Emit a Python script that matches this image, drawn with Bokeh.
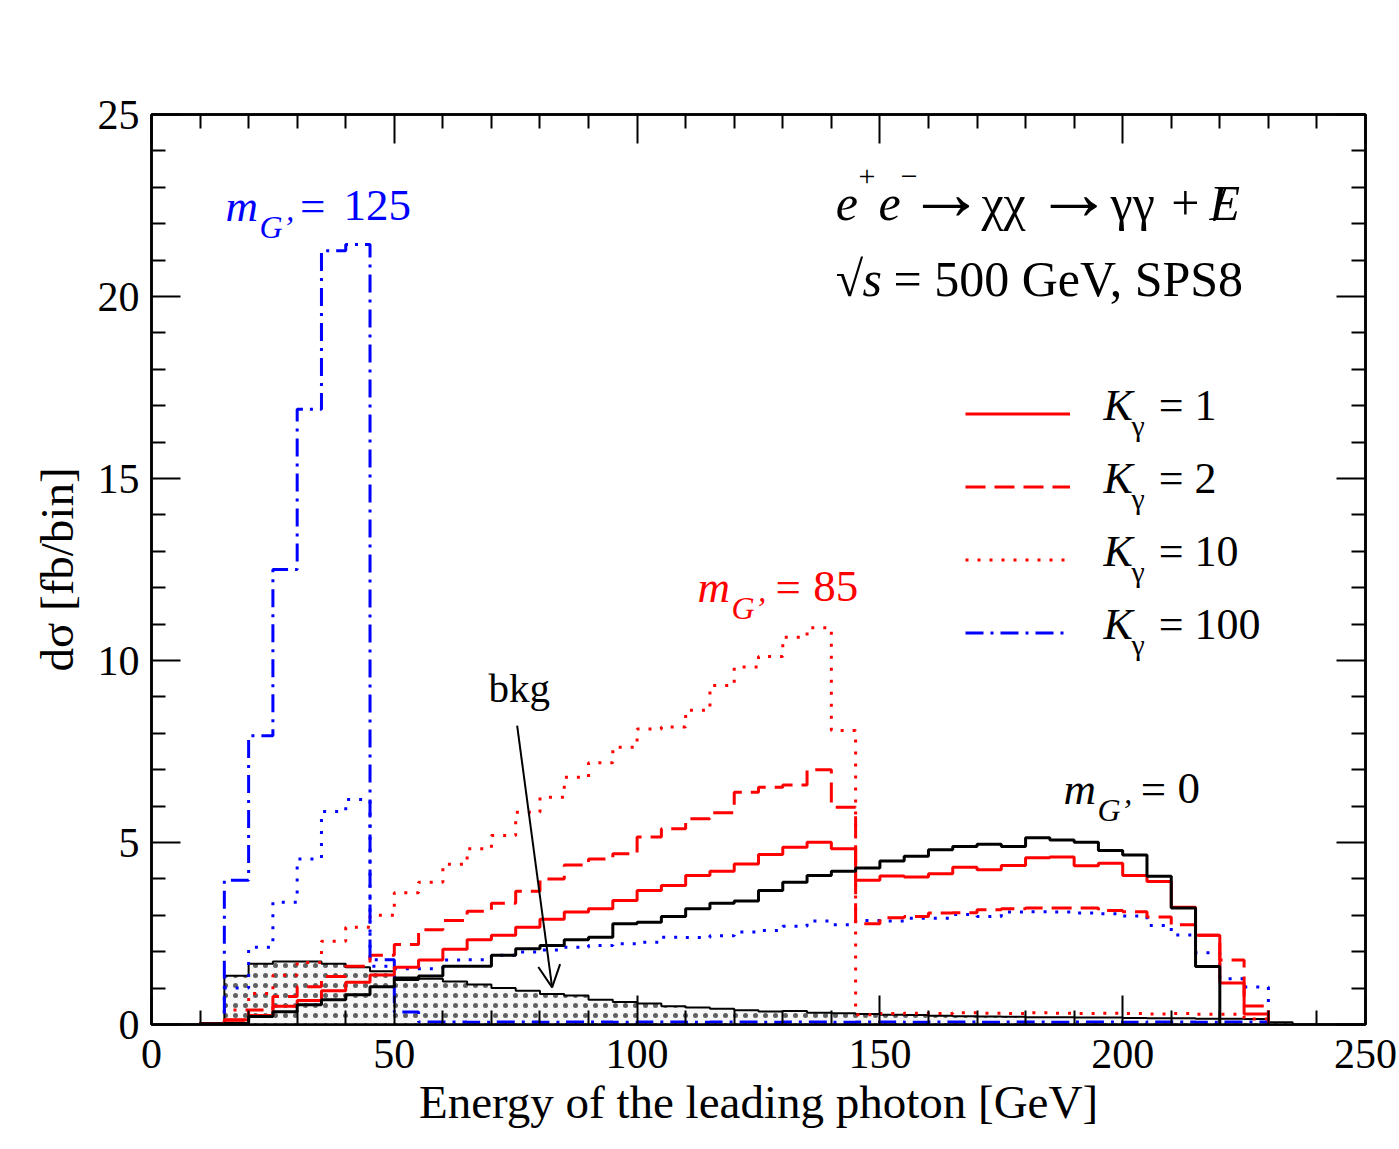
from bokeh.plotting import figure
from bokeh.models import (Range1d, LinearAxis, FixedTicker, Label, Arrow, OpenHead,
                          Legend, LegendItem)
from bokeh.embed import file_html
from bokeh.resources import INLINE

FONT = "Liberation Serif"

# ---------------- data ----------------
# lower edges of the 5 GeV bins [GeV]
bin_low = [10, 15, 20, 25, 30, 35, 40, 45, 50, 55, 60, 65, 70, 75, 80, 85, 90, 95,
           100, 105, 110, 115, 120, 125, 130, 135, 140, 145, 150, 155, 160, 165, 170,
           175, 180, 185, 190, 195, 200, 205, 210, 215, 220, 225, 230, 235]
BIN_W = 5

x_ticks = [0, 50, 100, 150, 200, 250]
y_ticks = [0, 5, 10, 15, 20, 25]

# background (hatched)
bkg = [0.00, 1.34, 1.67, 1.73, 1.73, 1.67, 1.57, 1.46, 1.22, 1.26, 1.18, 1.10, 1.00, 0.93,
       0.84, 0.80, 0.68, 0.62, 0.58, 0.50, 0.47, 0.43, 0.39, 0.36, 0.37, 0.32, 0.31, 0.29,
       0.27, 0.26, 0.24, 0.23, 0.22, 0.21, 0.20, 0.20, 0.19, 0.19, 0.18, 0.17, 0.17, 0.16,
       0.16, 0.15, 0.06, 0.00]
# m_G' = 0 (black solid)
m0_black = [0.02, 0.03, 0.22, 0.35, 0.54, 0.68, 0.82, 1.04, 1.28, 1.33, 1.60, 1.60, 1.90, 2.08,
            2.17, 2.33, 2.40, 2.77, 2.81, 2.97, 3.18, 3.33, 3.39, 3.68, 3.91, 4.09, 4.21, 4.30,
            4.49, 4.62, 4.80, 4.89, 4.95, 4.89, 5.13, 5.07, 5.01, 4.78, 4.66, 4.07, 3.20, 1.59,
            0.00, 0.00, 0.00, 0.00]
# K_gamma = 1 (red solid)
k1_red = [0.03, 0.13, 0.25, 0.50, 0.66, 0.93, 1.16, 1.36, 1.57, 1.77, 2.07, 2.33, 2.45, 2.67,
          2.89, 3.09, 3.18, 3.41, 3.68, 3.82, 4.09, 4.21, 4.41, 4.67, 4.87, 5.01, 4.83, 3.96,
          4.08, 4.05, 4.14, 4.32, 4.25, 4.37, 4.58, 4.60, 4.36, 4.43, 4.09, 3.93, 3.22, 2.45,
          1.14, 0.29, 0.00, 0.00]
# K_gamma = 2 (red dashed)
k2_red = [0.03, 0.12, 0.40, 0.77, 1.04, 1.32, 1.60, 1.90, 2.20, 2.60, 2.86, 3.11, 3.33, 3.66,
          4.00, 4.38, 4.55, 4.69, 5.15, 5.38, 5.65, 5.82, 6.38, 6.52, 6.58, 7.00, 5.97, 2.77,
          2.93, 2.97, 3.06, 3.07, 3.15, 3.18, 3.20, 3.20, 3.20, 3.13, 3.10, 2.95, 2.74, 2.45,
          1.77, 0.51, 0.00, 0.00]
# K_gamma = 10 (red dotted)
k10_red = [0.03, 0.40, 0.85, 1.35, 1.70, 2.29, 2.67, 3.00, 3.62, 3.91, 4.40, 4.83, 5.19, 5.83,
           6.24, 6.79, 7.19, 7.62, 8.12, 8.17, 8.63, 9.31, 9.82, 10.11, 10.64, 10.90, 8.08, 0.27,
           0.30, 0.31, 0.30, 0.32, 0.31, 0.30, 0.32, 0.31, 0.30, 0.31, 0.30, 0.29, 0.30, 0.28,
           0.28, 0.15, 0.00, 0.00]
# K_gamma = 100 (blue dash-dot)
k100_blue = [0.03, 3.96, 7.93, 12.50, 16.90, 21.26, 21.43, 1.78, 0.34, 0.07, 0.07, 0.06, 0.07,
             0.07, 0.06, 0.07, 0.07, 0.06, 0.07, 0.07, 0.06, 0.07, 0.07, 0.06, 0.07, 0.07, 0.06,
             0.07, 0.07, 0.06, 0.07, 0.07, 0.06, 0.07, 0.07, 0.06, 0.07, 0.07, 0.06, 0.07, 0.07,
             0.06, 0.07, 0.07, 0.00, 0.00]
# blue dotted
k10_blue = [0.03, 1.00, 2.12, 3.36, 4.55, 5.85, 6.18, 1.60, 1.53, 1.53, 1.77, 1.78, 1.90, 1.99,
            2.05, 2.12, 2.17, 2.22, 2.26, 2.40, 2.39, 2.44, 2.54, 2.58, 2.70, 2.84, 2.74, 2.86,
            2.84, 2.92, 2.92, 3.02, 2.97, 3.09, 3.10, 3.09, 3.06, 3.04, 2.98, 2.72, 2.46, 1.97,
            1.26, 1.03, 0.00, 0.00]

legend_vals = ["1", "2", "10", "100"]

for s in (bkg, m0_black, k1_red, k2_red, k10_red, k100_blue, k10_blue):
    assert len(s) == len(bin_low)


def steps(vals):
    nz = [i for i, v in enumerate(vals) if v > 0]
    lo, hi = nz[0], nz[-1]
    xs, ys = [bin_low[lo]], [0.0]
    for i in range(lo, hi + 1):
        xs += [bin_low[i], bin_low[i] + BIN_W]
        ys += [vals[i], vals[i]]
    xs.append(bin_low[hi] + BIN_W)
    ys.append(0.0)
    return xs, ys


# ---------------- figure ----------------
p = figure(width=1399, height=1149, x_range=Range1d(0, 250), y_range=Range1d(0, 25),
           output_backend="svg", toolbar_location=None,
           min_border_left=151, min_border_right=34, min_border_top=114, min_border_bottom=125,
           x_axis_label="Energy of the leading photon [GeV]", y_axis_label="dσ [fb/bin]")
p.grid.visible = False
p.outline_line_color = "black"
p.outline_line_width = 2.5
p.background_fill_color = "white"
p.border_fill_color = "white"

x_minor = [t for t in range(0, 251, 10) if t not in x_ticks]
y_minor = [t for t in range(0, 26) if t not in y_ticks]


def style_axis(ax, ticks, minor, labels=True):
    ax.ticker = FixedTicker(ticks=ticks, minor_ticks=minor)
    ax.axis_line_color = "black"
    ax.axis_line_width = 2.5
    ax.major_tick_in = 29
    ax.major_tick_out = 0
    ax.minor_tick_in = 14
    ax.minor_tick_out = 0
    ax.major_tick_line_width = 2
    ax.minor_tick_line_width = 2
    ax.major_tick_line_color = "black"
    ax.minor_tick_line_color = "black"
    if labels:
        ax.major_label_text_font = FONT
        ax.major_label_text_font_size = "42px"
        ax.major_label_text_color = "black"
        ax.axis_label_text_font = FONT
        ax.axis_label_text_font_size = "47px"
        ax.axis_label_text_font_style = "normal"
        ax.axis_label_text_color = "black"
    else:
        ax.major_label_text_font_size = "0px"
        ax.major_label_text_color = None


style_axis(p.xaxis[0], x_ticks, x_minor)
p.xaxis[0].major_label_standoff = 15
p.xaxis[0].axis_label_standoff = 5
style_axis(p.yaxis[0], y_ticks, y_minor)
p.yaxis[0].major_label_standoff = 12
p.yaxis[0].axis_label_standoff = 12

top_ax = LinearAxis()
style_axis(top_ax, x_ticks, x_minor, labels=False)
p.add_layout(top_ax, "above")
right_ax = LinearAxis()
style_axis(right_ax, y_ticks, y_minor, labels=False)
p.add_layout(right_ax, "right")

# ---------------- histograms ----------------
bx, by = steps(bkg)
p.patch(bx, by, fill_color="#f7f7f7", hatch_pattern="dot", hatch_color="#606060",
        hatch_scale=10, hatch_weight=2.2, line_color=None)
p.line(bx, by, line_color="black", line_width=2)

x, y = steps(k10_blue)
p.line(x, y, line_color="blue", line_width=3, line_dash="3 9")
x, y = steps(k10_red)
r_k10 = p.line(x, y, line_color="red", line_width=3, line_dash="3 9")
x, y = steps(k2_red)
r_k2 = p.line(x, y, line_color="red", line_width=3, line_dash="20 9")
x, y = steps(k100_blue)
r_k100 = p.line(x, y, line_color="blue", line_width=3, line_dash="18 7 3 7")
x, y = steps(k1_red)
r_k1 = p.line(x, y, line_color="red", line_width=3)
x, y = steps(m0_black)
p.line(x, y, line_color="black", line_width=3)

# ---------------- legend (line samples; texts with sub-scripts added below) ----------------
legend = Legend(items=[LegendItem(label=" ", renderers=[r]) for r in (r_k1, r_k2, r_k10, r_k100)],
                location=(814, 366), orientation="vertical",
                glyph_width=105, glyph_height=51, label_height=51, label_standoff=33,
                spacing=22, padding=0, margin=0, border_line_color=None,
                background_fill_alpha=0, label_text_font=FONT, label_text_font_size="44px",
                label_text_color="black")
p.add_layout(legend)

PX_PER_UNIT = 36.4


def lab(x, y, text, size, color="black", style="normal", font=FONT):
    # y is the wanted baseline; compensate Bokeh's label placement
    p.add_layout(Label(x=x, y=y + 0.37 * size / PX_PER_UNIT, text=text, text_font=font,
                       text_font_size=f"{size}px", text_color=color, text_font_style=style,
                       text_align="left", text_baseline="alphabetic"))


legend_base = [16.57, 14.56, 12.55, 10.55]
for v, yb in zip(legend_vals, legend_base):
    lab(196.05, yb, "K", 44, style="italic")
    lab(201.8, yb - 0.41, "γ", 30)
    lab(207.4, yb, "= " + v, 44)

# process text
lab(140.9, 22.06, "e", 50, style="italic")
lab(145.6, 22.99, "+", 30)
lab(149.7, 22.06, "e", 50, style="italic")
lab(154.3, 22.99, "−", 30)
lab(155.6, 22.06, "→", 78)
lab(170.9, 22.06, "χχ", 50)
lab(181.9, 22.06, "→", 78)
lab(197.5, 22.06, "γγ", 50)
lab(210.0, 22.06, "+", 50)
lab(217.9, 22.06, "E", 50, style="italic")
lab(218.6, 22.06, "/", 50)
lab(140.9, 19.97, "√", 50)
lab(146.4, 19.97, "s", 50, style="italic")
lab(152.8, 19.97, "= 500 GeV, SPS8", 50)

# mass annotations
for (xm, ym, xe, xn, num, col) in [(15.24, 22.03, 30.6, 39.54, "125", "blue"),
                                   (112.44, 11.57, 128.5, 136.3, "85", "red"),
                                   (187.8, 6.02, 203.7, 211.3, "0", "black")]:
    lab(xm, ym, "m", 45, color=col, style="italic")
    lab(xm + 7.0, ym - 0.45, "G’", 32, color=col, style="italic")
    lab(xe, ym, "=", 45, color=col)
    lab(xn, ym, num, 45, color=col)

lab(69.4, 8.82, "bkg", 41)
p.add_layout(Arrow(end=OpenHead(size=22, line_width=2, line_color="black"),
                   x_start=75.3, y_start=8.21, x_end=82.5, y_end=1.02,
                   line_width=2, line_color="black"))

open("out.html", "w").write(file_html(p, INLINE))
